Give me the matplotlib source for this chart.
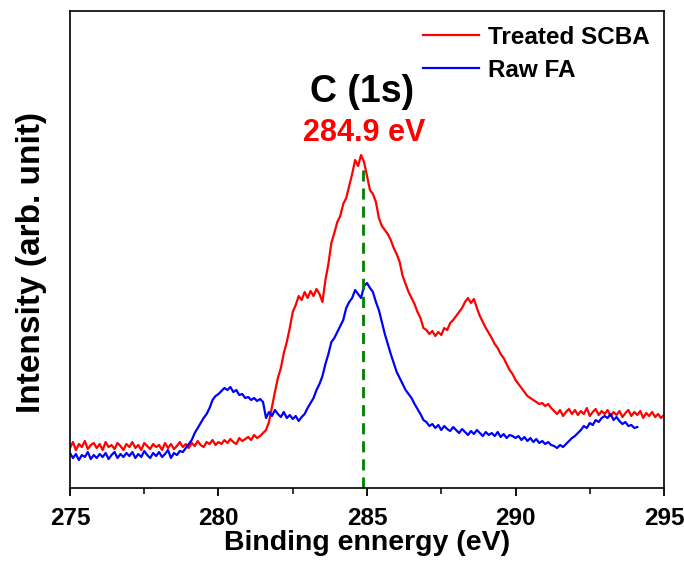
import numpy as np
import matplotlib.pyplot as plt
from matplotlib.ticker import MultipleLocator

plt.rcParams['font.family'] = ['Liberation Sans', 'DejaVu Sans']
plt.rcParams['font.weight'] = 'bold'

# energia de enlace (eV), paso de 0.1 eV
energy_scba = np.round(np.arange(275.0, 295.01, 0.1), 2)
energy_fa = np.round(np.arange(275.0, 294.11, 0.1), 2)

# intensidad (unidades arbitrarias)
treated_scba = [
    40, 46, 38, 44, 41, 47, 39, 43, 45, 40,
    44, 38, 46, 41, 43, 39, 45, 42, 38, 44,
    41, 46, 40, 43, 38, 45, 42, 39, 44, 41,
    43, 38, 45, 40, 44, 39, 42, 46, 41, 44,
    40, 45, 42, 47, 43, 41, 46, 44, 48, 43,
    46, 44, 48, 45, 49, 46, 44, 50, 47, 49,
    51, 48, 53, 50, 52, 55, 58, 66, 81, 96,
    110, 120, 135, 146, 160, 176, 183, 192, 188, 196,
    190, 197, 192, 199, 194, 186, 208, 224, 245, 255,
    266, 272, 284, 290, 302, 314, 328, 322, 333, 326,
    312, 298, 294, 286, 270, 262, 258, 254, 248, 240,
    234, 226, 212, 204, 196, 190, 184, 176, 170, 160,
    158, 154, 157, 152, 156, 153, 160, 158, 165, 168,
    172, 176, 180, 186, 190, 185, 189, 180, 172, 166,
    160, 155, 150, 144, 140, 134, 130, 124, 118, 114,
    108, 104, 100, 96, 92, 90, 88, 86, 84, 85,
    82, 84, 80, 77, 74, 78, 72, 76, 79, 74,
    78, 73, 77, 74, 80, 72, 76, 79, 73, 77,
    74, 78, 72, 76, 73, 77, 71, 75, 78, 72,
    76, 73, 77, 70, 75, 72, 76, 71, 74, 70,
    73,
]

raw_fa = [
    35, 30, 34, 28, 33, 31, 36, 29, 33, 30,
    34, 31, 35, 29, 33, 36, 30, 34, 31, 35,
    32, 36, 30, 34, 31, 37, 33, 30, 35, 32,
    36, 31, 34, 38, 30, 35, 33, 37, 36, 40,
    44, 48, 55, 60, 65, 70, 74, 80, 88, 92,
    94, 97, 100, 98, 101, 96, 98, 93, 94, 90,
    91, 88, 90, 87, 89, 86, 70, 76, 72, 78,
    74, 71, 76, 70, 73, 69, 72, 67, 71, 74,
    80, 85, 90, 98, 104, 112, 124, 134, 146, 150,
    156, 162, 168, 180, 186, 190, 198, 194, 190, 202,
    205, 200, 196, 186, 178, 166, 154, 144, 134, 125,
    116, 110, 104, 98, 94, 90, 84, 79, 74, 68,
    66, 62, 64, 60, 63, 58, 62, 59, 57, 61,
    58, 55, 59, 56, 53, 57, 54, 58, 55, 52,
    56, 53, 55, 52, 56, 51, 54, 50, 53, 52,
    50, 52, 48, 51, 47, 50, 46, 49, 45, 47,
    44, 46, 43, 42, 40, 43, 41, 44, 47, 50,
    52, 55, 58, 62, 60, 65, 63, 68, 66, 70,
    72, 70, 74, 68, 71, 67, 64, 66, 62, 63,
    60, 61,
]

peak_energy = 284.85
peak_height = 325

fig = plt.figure(figsize=(6.84, 5.67), dpi=100)
ax = fig.add_axes([0.1023, 0.1393, 0.8685, 0.8413])

ax.plot(energy_scba, treated_scba, color='red', lw=1.6, label='Treated SCBA')
ax.plot(energy_fa, raw_fa, color='blue', lw=1.6, label='Raw FA')
ax.vlines(peak_energy, 0, peak_height, colors='green', linestyles=(0, (4, 2.5)), lw=2)

ax.set_xlim(275, 295)
ax.set_ylim(0, 477)
ax.xaxis.set_major_locator(MultipleLocator(5))
ax.xaxis.set_minor_locator(MultipleLocator(2.5))
ax.set_yticks([])
ax.tick_params(axis='x', which='major', direction='out', length=6, width=1.3,
               labelsize=17.5, pad=8)
ax.tick_params(axis='x', which='minor', direction='out', length=4, width=1.1)
for lab in ax.get_xticklabels():
    lab.set_fontweight('bold')
for sp in ax.spines.values():
    sp.set_linewidth(1.2)

ax.set_xlabel('Binding ennergy (eV)', fontsize=20.5, fontweight='bold', labelpad=0)
ax.set_ylabel('Intensity (arb. unit)', fontsize=24, fontweight='bold')
ax.yaxis.set_label_coords(-0.038, 0.472)

ax.text(284.83, 396, 'C (1s)', fontsize=27, fontweight='bold', color='black',
        ha='center', va='center')
ax.text(284.9, 355, '284.9 eV', fontsize=22, fontweight='bold', color='red',
        ha='center', va='center')

leg = ax.legend(loc='upper right', bbox_to_anchor=(1.0, 1.0), frameon=False,
                fontsize=17.5, handlelength=2.3, handletextpad=0.35,
                labelspacing=0.42, borderaxespad=0.2)
for t in leg.get_texts():
    t.set_fontweight('bold')

fig.savefig('out.png', dpi=100)
